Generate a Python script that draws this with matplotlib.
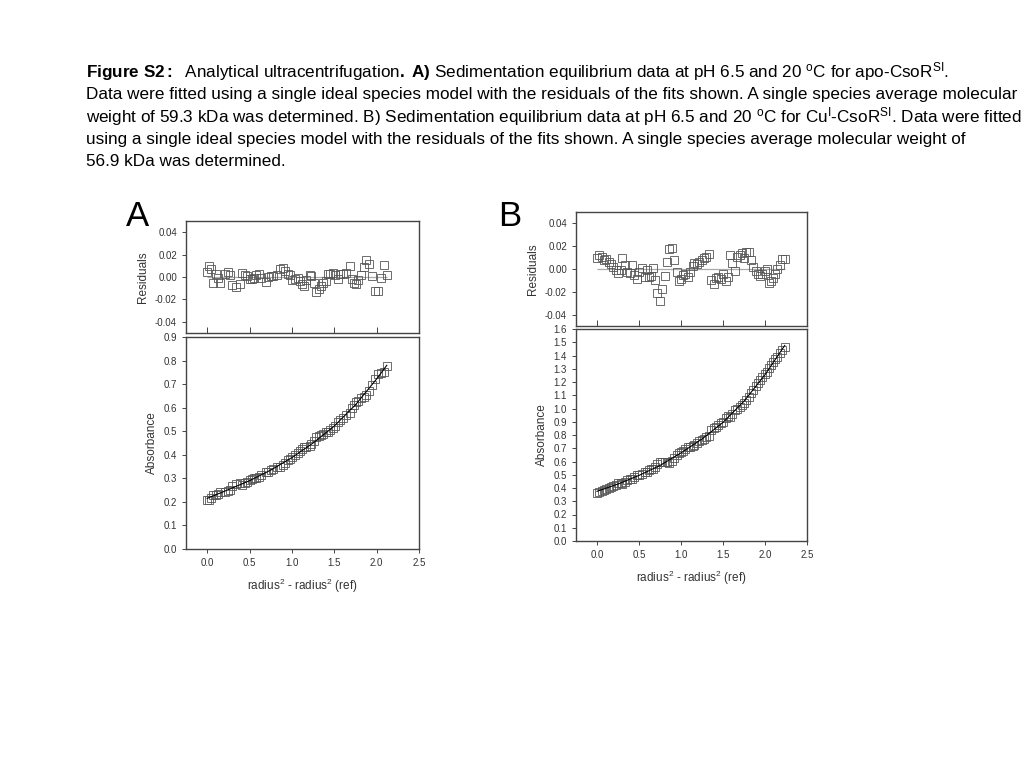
import numpy as np
import matplotlib.pyplot as plt
from matplotlib.ticker import FormatStrFormatter, MultipleLocator

plt.rcParams['font.family'] = ['Liberation Sans', 'DejaVu Sans']
plt.rcParams['mathtext.fontset'] = 'custom'
plt.rcParams['mathtext.rm'] = 'Liberation Sans'
plt.rcParams['mathtext.it'] = 'Liberation Sans:italic'
plt.rcParams['mathtext.bf'] = 'Liberation Sans:bold'
plt.rcParams['axes.unicode_minus'] = False

# Panel A (apo-CsoR)
radius_a = [0.000, 0.020, 0.047, 0.067, 0.106, 0.126, 0.154, 0.205, 0.244, 0.264,
            0.295, 0.343, 0.382, 0.413, 0.441, 0.469, 0.500, 0.524, 0.551, 0.579,
            0.606, 0.634, 0.689, 0.713, 0.752, 0.776, 0.823, 0.854, 0.894, 0.921,
            0.957, 0.980, 1.004, 1.035, 1.071, 1.090, 1.118, 1.142, 1.169, 1.209,
            1.228, 1.260, 1.287, 1.315, 1.339, 1.366, 1.398, 1.425, 1.453, 1.484,
            1.512, 1.543, 1.571, 1.602, 1.642, 1.681, 1.705, 1.732, 1.760, 1.783,
            1.819, 1.850, 1.878, 1.906, 1.945, 1.976, 2.020, 2.050, 2.087, 2.118]
residuals_a = [0.0047, 0.0100, 0.0074, -0.0056, 0.0024, -0.0006, -0.0056, 0.0030, 0.0047, 0.0015,
               -0.0074, -0.0085, -0.0065, 0.0038, 0.0018, 0.0006, -0.0020, -0.0015, -0.0006, 0.0015,
               0.0030, -0.0006, -0.0044, 0.0003, 0.0009, 0.0009, 0.0015, 0.0074, 0.0082, 0.0053,
               0.0030, 0.0015, -0.0026, -0.0020, -0.0012, -0.0035, -0.0059, -0.0082, -0.0026, 0.0015,
               0.0009, -0.0056, -0.0132, -0.0110, -0.0080, -0.0050, -0.0035, 0.0024, 0.0030, 0.0032,
               0.0015, -0.0015, 0.0024, 0.0030, 0.0038, 0.0097, -0.0020, -0.0050, -0.0065, -0.0026,
               0.0015, 0.0088, 0.0150, 0.0120, 0.0009, -0.0124, -0.0124, -0.0012, 0.0106, 0.0015]
absorbance_a = [0.210, 0.208, 0.215, 0.231, 0.229, 0.235, 0.244, 0.242, 0.246, 0.252,
                0.266, 0.275, 0.279, 0.273, 0.279, 0.284, 0.292, 0.296, 0.300, 0.302,
                0.306, 0.315, 0.328, 0.328, 0.334, 0.340, 0.348, 0.350, 0.358, 0.366,
                0.376, 0.382, 0.392, 0.399, 0.407, 0.414, 0.423, 0.431, 0.433, 0.438,
                0.444, 0.459, 0.474, 0.480, 0.484, 0.488, 0.497, 0.498, 0.505, 0.514,
                0.524, 0.539, 0.546, 0.556, 0.569, 0.577, 0.598, 0.611, 0.623, 0.630,
                0.640, 0.647, 0.653, 0.669, 0.697, 0.723, 0.744, 0.747, 0.753, 0.777]
fit_radius_a = [0.0, 0.25, 0.5, 0.75, 1.0, 1.25, 1.5, 1.75, 2.0, 2.12]
fit_absorbance_a = [0.215, 0.252, 0.290, 0.335, 0.388, 0.450, 0.522, 0.612, 0.722, 0.780]

# Panel B (CuI-CsoR)
radius_b = [0.000, 0.027, 0.055, 0.082, 0.113, 0.141, 0.168, 0.195, 0.223, 0.250,
            0.280, 0.300, 0.330, 0.360, 0.390, 0.420, 0.445, 0.477, 0.504, 0.535,
            0.566, 0.594, 0.621, 0.645, 0.668, 0.691, 0.719, 0.750, 0.777, 0.809,
            0.828, 0.852, 0.887, 0.918, 0.949, 0.973, 1.000, 1.027, 1.050, 1.082,
            1.109, 1.137, 1.160, 1.190, 1.219, 1.246, 1.270, 1.297, 1.328, 1.359,
            1.387, 1.414, 1.441, 1.473, 1.500, 1.531, 1.559, 1.582, 1.609, 1.640,
            1.668, 1.699, 1.727, 1.750, 1.777, 1.809, 1.836, 1.863, 1.891, 1.918,
            1.941, 1.969, 2.000, 2.020, 2.043, 2.066, 2.090, 2.117, 2.145, 2.176,
            2.207, 2.235]
residuals_b = [0.0099, 0.0120, 0.0104, 0.0075, 0.0090, 0.0060, 0.0045, 0.0020, -0.0010, -0.0036,
               -0.0006, 0.0095, 0.0036, -0.0024, -0.0036, 0.0036, -0.0054, -0.0084, -0.0024, 0.0009,
               -0.0069, -0.0006, -0.0069, -0.0060, 0.0006, -0.0099, -0.0209, -0.0278, -0.0173, -0.0060,
               0.0060, 0.0179, 0.0185, 0.0080, -0.0030, -0.0104, -0.0084, -0.0054, -0.0045, -0.0069,
               -0.0024, 0.0030, 0.0050, 0.0045, 0.0060, 0.0080, 0.0099, 0.0104, 0.0128, -0.0099,
               -0.0134, -0.0081, -0.0069, -0.0090, -0.0045, -0.0104, -0.0069, 0.0119, 0.0050, -0.0015,
               0.0104, 0.0125, 0.0140, 0.0095, 0.0149, 0.0146, 0.0080, 0.0020, -0.0015, -0.0045,
               -0.0060, -0.0045, -0.0015, 0.0000, -0.0125, -0.0104, -0.0075, -0.0045, 0.0000, 0.0039,
               0.0090, 0.0085]
absorbance_b = [0.365, 0.369, 0.377, 0.385, 0.391, 0.400, 0.407, 0.416, 0.425, 0.434,
                0.439, 0.433, 0.447, 0.461, 0.470, 0.470, 0.486, 0.497, 0.498, 0.505,
                0.522, 0.524, 0.538, 0.544, 0.544, 0.562, 0.582, 0.598, 0.597, 0.598,
                0.593, 0.590, 0.602, 0.626, 0.649, 0.665, 0.673, 0.681, 0.691, 0.706,
                0.713, 0.720, 0.727, 0.740, 0.751, 0.760, 0.770, 0.784, 0.796, 0.835,
                0.852, 0.860, 0.873, 0.891, 0.900, 0.925, 0.940, 0.935, 0.960, 0.987,
                0.993, 1.009, 1.026, 1.045, 1.062, 1.087, 1.116, 1.143, 1.170, 1.194,
                1.214, 1.235, 1.257, 1.274, 1.308, 1.327, 1.348, 1.370, 1.391, 1.416,
                1.444, 1.467]
fit_radius_b = [0.0, 0.25, 0.5, 0.75, 1.0, 1.25, 1.5, 1.75, 2.0, 2.235]
fit_absorbance_b = [0.375, 0.430, 0.495, 0.570, 0.665, 0.770, 0.895, 1.055, 1.255, 1.476]

caption_lines = [
    r"$\bf{Figure\ S2:}$  Analytical ultracentrifugation$\bf{.}$ $\bf{A)}$ Sedimentation equilibrium data at pH 6.5 and 20 $^{\rm o}$C for apo-CsoR$^{\rm SI}$.",
    "Data were fitted using a single ideal species model with the residuals of the fits shown. A single species average molecular",
    r"weight of 59.3 kDa was determined. B) Sedimentation equilibrium data at pH 6.5 and 20 $^{\rm o}$C for Cu$^{\rm I}$-CsoR$^{\rm SI}$. Data were fitted",
    "using a single ideal species model with the residuals of the fits shown. A single species average molecular weight of",
    "56.9 kDa was determined.",
]
caption_baselines = [77, 99, 122, 144, 166]

text_color = '#333333'
spine_color = '#444444'
marker_color = '#555555'


def style_axis(ax):
    for spine in ax.spines.values():
        spine.set_color(spine_color)
        spine.set_linewidth(1.0)
    ax.tick_params(colors=spine_color, labelcolor=text_color, labelsize=7,
                   length=3, width=0.7)


def plot_panel(resid_rect, abs_rect, radius, residuals, absorbance, fit_x, fit_y, y_max, letter, letter_pos):

    # Residuals
    ax_r = fig.add_axes(resid_rect)
    ax_r.hlines(0, radius[0], radius[-1], color='#aaaaaa', linewidth=0.9)
    ax_r.plot(radius, residuals, linestyle='none', marker='s', markersize=6,
              markerfacecolor='none', markeredgecolor=marker_color, markeredgewidth=0.6)
    ax_r.set_xlim(-0.25, 2.5)
    ax_r.set_ylim(-0.05, 0.05)
    ax_r.yaxis.set_major_locator(MultipleLocator(0.02))
    ax_r.yaxis.set_major_formatter(FormatStrFormatter('%.2f'))
    ax_r.xaxis.set_major_locator(MultipleLocator(0.5))
    ax_r.set_xticklabels([])
    ax_r.set_ylabel("Residuals", fontsize=8.5, color=text_color, labelpad=4)
    style_axis(ax_r)
    ax_r.tick_params(axis='x', direction='in', length=4)

    # Absorbance
    ax_a = fig.add_axes(abs_rect)
    ax_a.plot(radius, absorbance, linestyle='none', marker='s', markersize=6,
              markerfacecolor='none', markeredgecolor=marker_color, markeredgewidth=0.6)
    ax_a.plot(fit_x, fit_y, color='black', linewidth=0.8)
    ax_a.set_xlim(-0.25, 2.5)
    ax_a.set_ylim(0, y_max)
    ax_a.yaxis.set_major_locator(MultipleLocator(0.1))
    ax_a.yaxis.set_major_formatter(FormatStrFormatter('%.1f'))
    ax_a.xaxis.set_major_locator(MultipleLocator(0.5))
    ax_a.xaxis.set_major_formatter(FormatStrFormatter('%.1f'))
    ax_a.set_ylabel("Absorbance", fontsize=8.5, color=text_color, labelpad=4)
    ax_a.set_xlabel(r"radius$^{2}$ - radius$^{2}$ (ref)", fontsize=8.5, color=text_color, labelpad=6)
    style_axis(ax_a)

    fig.text(letter_pos[0] / 1024, 1 - letter_pos[1] / 768, letter, fontsize=25,
             ha='center', va='center', color='black')


fig = plt.figure(figsize=(10.24, 7.68), dpi=100)

for line, base in zip(caption_lines, caption_baselines):
    fig.text(86 / 1024, 1 - base / 768, line, fontsize=12.3, ha='left', va='baseline', color='black')

plot_panel([186 / 1024, 1 - 333 / 768, 233 / 1024, 112 / 768],
           [186 / 1024, 1 - 549 / 768, 233 / 1024, 212 / 768],
           radius_a, residuals_a, absorbance_a, fit_radius_a, fit_absorbance_a, 0.9, "A", (137, 217))

plot_panel([576 / 1024, 1 - 326 / 768, 231 / 1024, 114 / 768],
           [576 / 1024, 1 - 541 / 768, 231 / 1024, 212 / 768],
           radius_b, residuals_b, absorbance_b, fit_radius_b, fit_absorbance_b, 1.6, "B", (510, 217))

plt.savefig("out.png", dpi=100)
